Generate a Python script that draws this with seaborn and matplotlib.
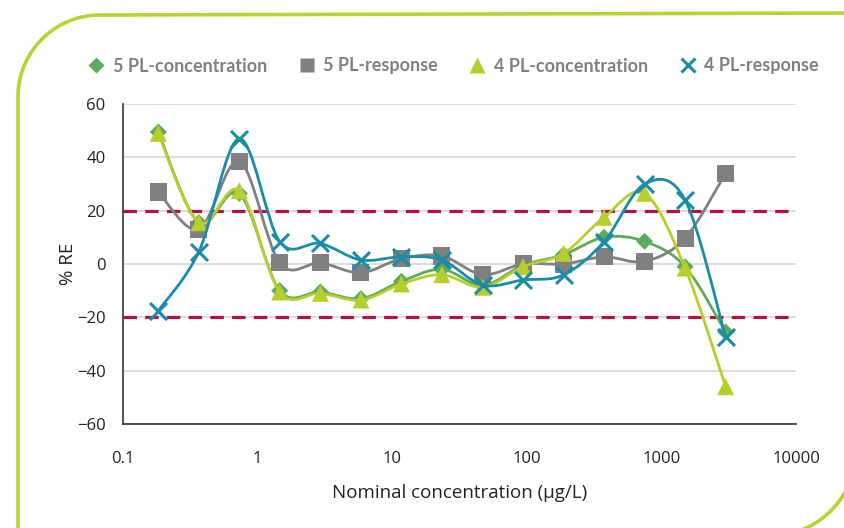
import numpy as np
import pandas as pd
import matplotlib
matplotlib.use("Agg")
import matplotlib.pyplot as plt
from matplotlib.path import Path
from matplotlib.patches import PathPatch
from matplotlib.lines import Line2D
import matplotlib.ticker as mticker
import seaborn as sns

# ---------------- data ----------------
conc = [0.183, 0.366, 0.732, 1.46, 2.93, 5.86, 11.7, 23.4, 46.9, 93.8,
        187.5, 375, 750, 1500, 3000]
pl5_conc = [49.5, 15.5, 26.5, -10, -10.5, -13, -6.5, -2, -8, -0.5,
            3.5, 10, 8.5, -1, -25.5]
pl5_resp = [27, 13, 38.5, 0.4, 0.4, -3.3, 2, 3, -4, 0,
            0, 2.7, 1, 9.7, 34]
pl4_conc = [49, 15.5, 27.5, -10.5, -11, -13.5, -7.5, -4, -8.7, -1,
            4, 17.5, 26.5, -1.5, -46]
pl4_resp = [-17.5, 4.6, 47, 8.4, 7.7, 1.5, 2.7, 1.5, -7.9, -6,
            -4.1, 8.4, 30, 24, -27.3]
series_names = ["5 PL-concentration", "5 PL-response",
                "4 PL-concentration", "4 PL-response"]
limits = [20, -20]
yticks = [-60, -40, -20, 0, 20, 40, 60]
xticks = [0.1, 1, 10, 100, 1000, 10000]
xticklabels = ["0.1", "1", "10", "100", "1000", "10000"]

colors = ["#5DAB5B", "#808083", "#B5CF2E", "#1A8CA6"]
markers = ["D", "s", "^", "x"]
msizes = [75, 150, 150, 150]

sns.set_theme(style="white")
plt.rcParams["font.family"] = ["Open Sans", "DejaVu Sans"]

fig = plt.figure(figsize=(8.44, 5.28), dpi=100)
ax = fig.add_axes([123/844, 1-424/528, (796-123)/844, (424-104)/528])

ax.set_xscale("log")
ax.set_xlim(0.1, 10000)
ax.set_ylim(-60, 60)

# gridlines
ax.set_yticks(yticks)
ax.yaxis.grid(True, color="#d9d9d9", lw=1.3, zorder=0)
ax.set_axisbelow(True)

# limits
for lv in limits:
    ax.axhline(lv, color="#B3123F", lw=2.3, ls=(0, (4.2, 2.6)), zorder=1)


def smooth_path(xs, ys):
    u = np.log10(np.asarray(xs, float))
    v = np.asarray(ys, float)
    P = np.column_stack([u, v])
    n = len(P)
    verts = [P[0]]
    codes = [Path.MOVETO]
    for i in range(n - 1):
        p0 = P[i - 1] if i > 0 else P[i]
        p1 = P[i]
        p2 = P[i + 1]
        p3 = P[i + 2] if i + 2 < n else P[i + 1]
        c1 = p1 + (p2 - p0) / 6.0
        c2 = p2 - (p3 - p1) / 6.0
        verts += [c1, c2, p2]
        codes += [Path.CURVE4] * 3
    verts = np.array(verts)
    verts[:, 0] = 10 ** verts[:, 0]
    return Path(verts, codes)


data = [pl5_conc, pl5_resp, pl4_conc, pl4_resp]
for i, (vals, name) in enumerate(zip(data, series_names)):
    z = 3 + i * 2
    patch = PathPatch(smooth_path(conc, vals), fill=False,
                      edgecolor=colors[i], lw=2.0, zorder=z,
                      capstyle="round", joinstyle="round")
    ax.add_patch(patch)
    df = pd.DataFrame({"x": conc, "y": vals})
    if markers[i] == "x":
        sns.scatterplot(data=df, x="x", y="y", ax=ax, marker="x",
                        s=msizes[i], color=colors[i], linewidth=2.2,
                        zorder=z + 1, legend=False)
    else:
        sns.scatterplot(data=df, x="x", y="y", ax=ax, marker=markers[i],
                        s=msizes[i], color=colors[i], edgecolor="none",
                        zorder=z + 1, legend=False)

ax.set_xticks(xticks)
ax.set_xticklabels(xticklabels)
ax.xaxis.set_minor_locator(mticker.NullLocator())
ax.set_xlabel("Nominal concentration (µg/L)", fontsize=13.5, color="#222222",
              labelpad=12)
ax.set_ylabel("% RE", fontsize=13.5, color="#222222", labelpad=0)

for s in ["top", "right"]:
    ax.spines[s].set_visible(False)
for s in ["left", "bottom"]:
    ax.spines[s].set_color("#333333")
    ax.spines[s].set_linewidth(1.2)
ax.tick_params(axis="both", which="major", direction="out", length=7.5,
               width=1.2, color="#333333", labelsize=12, labelcolor="#222222",
               pad=5)
ax.tick_params(axis="x", pad=12)

# legend
handles = []
for i, name in enumerate(series_names):
    if markers[i] == "x":
        h = Line2D([], [], ls="none", marker="x", ms=10, mew=2.2,
                   color=colors[i])
    else:
        h = Line2D([], [], ls="none", marker=markers[i],
                   ms=[8, 10, 11, 10][i], color=colors[i], mec="none")
    handles.append(h)
fig.legend(handles, series_names, loc="center",
           bbox_to_anchor=(452/844, 1-66/528), ncol=4, frameon=False,
           handletextpad=0.3, columnspacing=1.6, handlelength=1.2,
           prop={"family": "Lato", "weight": "bold", "size": 13},
           labelcolor="#808080")

# decorative frame
lime = "#B7D334"
fw = fig.get_figwidth() * fig.dpi
fh = fig.get_figheight() * fig.dpi

t = np.linspace(np.pi, 1.5 * np.pi, 60)
cx, cy, r = 100, 97, 82
arc = [(cx + r * np.cos(a), cy + r * np.sin(a)) for a in t]
pts = [(18, 540)] + arc + [(860, 13)]
xs = [p[0] / fw for p in pts]
ys = [1 - p[1] / fh for p in pts]
fig.add_artist(Line2D(xs, ys, color=lime, lw=2.6, transform=fig.transFigure,
                      solid_capstyle="butt"))
t2 = np.linspace(0, 0.5 * np.pi, 60)
cx2, cy2, r2 = 770, 450, 86
pts2 = [(cx2 + r2 * np.cos(a), cy2 + r2 * np.sin(a)) for a in t2]
fig.add_artist(Line2D([p[0] / fw for p in pts2], [1 - p[1] / fh for p in pts2],
                      color=lime, lw=2.6, transform=fig.transFigure))

fig.savefig("out.png", dpi=100)
